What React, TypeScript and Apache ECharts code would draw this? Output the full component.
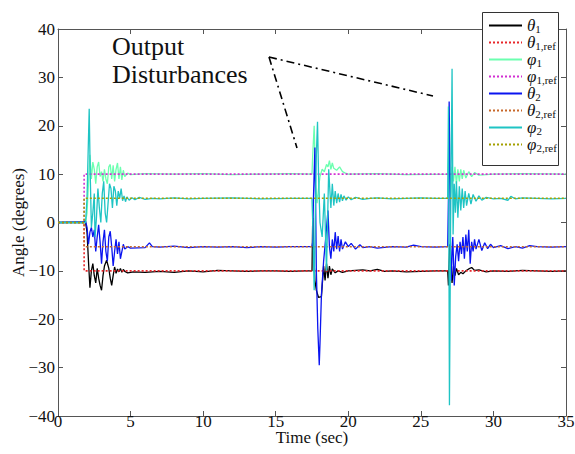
import React, { useEffect, useRef } from "react";
import * as echarts from "echarts";

const FONT = "Liberation Serif";

const xTicks = [0, 5, 10, 15, 20, 25, 30, 35];
const yTicks = [-40, -30, -20, -10, 0, 10, 20, 30, 40];

const legendNames = ["θ1", "θ1,ref", "φ1", "φ1,ref", "θ2", "θ2,ref", "φ2", "φ2,ref"];
const legendGreek = ["θ", "θ", "φ", "φ", "θ", "θ", "φ", "φ"];
const legendSub = ["1", "1,ref", "1", "1,ref", "2", "2,ref", "2", "2,ref"];
const colors = ["#000000", "#e8262a", "#6cffb0", "#d22fd2", "#0a14f0", "#c8682a", "#1fc4c4", "#a4a000"];

// theta_1 (black)
const theta1: number[][] = [
  [0, 0], [1.9, 0], [2.0, -2], [2.1, -8], [2.2, -13.5], [2.3, -10], [2.4, -8.5], [2.5, -11], [2.6, -12.5],
  [2.7, -9.5], [2.8, -11.5], [2.9, -13], [3.0, -14], [3.1, -11], [3.2, -9], [3.35, -7.8], [3.5, -9.5],
  [3.6, -11.5], [3.7, -13], [3.8, -11], [3.9, -9.2], [4.0, -10.5], [4.1, -9.6], [4.2, -10.2], [4.3, -9.5],
  [4.4, -10.3], [4.5, -9.7], [4.6, -10.1], [4.8, -10.4], [5.2, -10.2], [6, -10.3], [7, -10.1], [8, -10.3],
  [9, -10.0], [10, -10.2], [11, -9.9], [12, -10], [13, -10.1], [14, -10], [15, -10], [16, -10.1], [17, -10],
  [17.5, -10], [17.55, 1], [17.62, -6], [17.7, -12], [17.8, -14], [17.95, -15.5], [18.15, -15.3], [18.3, -9],
  [18.4, -12], [18.5, -8.5], [18.6, -11.5], [18.7, -9], [18.8, -10.8], [18.9, -9.6], [19.1, -10.4],
  [19.3, -10], [19.6, -10.3], [20, -10], [21, -9.8], [21.5, -10], [22, -9.7], [22.5, -10.1], [23, -10],
  [24, -10.2], [25, -10.1], [26, -10], [26.85, -10], [26.9, -13], [26.95, -8], [27.0, -4.5], [27.05, -9],
  [27.15, -12.5], [27.25, -9], [27.35, -11], [27.45, -9.5], [27.6, -10.8], [27.75, -10.3], [27.9, -10.6],
  [28.1, -10], [28.3, -9.6], [28.5, -9.3], [28.7, -9.9], [29, -9.8], [29.5, -10.2], [30, -10], [31, -10.1],
  [32, -9.9], [33, -10], [34, -10.1], [35, -10],
];

// theta_2 (blue)
const theta2: number[][] = [
  [0, 0], [1.6, 0.1], [1.9, 0.3], [2.0, -1], [2.1, -4.5], [2.2, -2], [2.3, -1], [2.4, -3], [2.5, -1.5],
  [2.6, -6], [2.7, -3], [2.8, -0.5], [2.9, -4], [3.0, -8.5], [3.1, -4], [3.2, -1.5], [3.3, -6], [3.4, -8],
  [3.5, -3], [3.6, -1.8], [3.7, -5], [3.8, -9], [3.9, -6], [4.0, -3.5], [4.1, -6.5], [4.2, -4], [4.3, -7.5],
  [4.4, -6], [4.5, -4.5], [4.6, -5.5], [4.8, -5], [5, -5.3], [6, -5.2], [6.3, -4.2], [6.5, -5], [7, -5.1],
  [8, -4.9], [9, -5.2], [10, -5], [11, -5.1], [12, -5], [13, -5.2], [14, -5], [15, -5.1], [16, -5], [17, -5],
  [17.5, -5], [17.55, -4], [17.6, 5], [17.7, 15.5], [17.75, 4], [17.8, -10], [17.9, -22], [18.0, -29.5],
  [18.05, -25], [18.15, -15], [18.3, -8], [18.45, -3], [18.6, 2.5], [18.7, -5], [18.8, -7.5], [18.9, -3.5],
  [19.0, -6], [19.1, -2], [19.2, -5.5], [19.3, -2.8], [19.4, -6], [19.5, -3.5], [19.6, -5.5], [19.8, -4],
  [20, -5], [20.2, -4.3], [20.5, -5.5], [20.8, -4.6], [21, -5.2], [21.5, -5], [22, -5.3], [23, -5],
  [24, -5.1], [24.5, -4.7], [25, -5], [26, -5.1], [26.85, -5], [26.9, 5], [26.95, 25], [27.0, 10],
  [27.05, -8], [27.1, -12], [27.15, -6], [27.2, -3], [27.3, -13], [27.4, -7], [27.5, -4.5], [27.6, -8],
  [27.7, -4], [27.8, -6.5], [27.9, -3], [28.0, -7.5], [28.1, -2.5], [28.2, -6], [28.3, -1.5], [28.4, -8.5],
  [28.5, -4], [28.6, -6], [28.7, -3.5], [28.8, -5.5], [29, -3.5], [29.2, -5.8], [29.4, -4.2], [29.6, -5.4],
  [29.8, -4.5], [30, -5.2], [30.5, -4.8], [31, -5.4], [31.5, -5], [32, -5.3], [32.5, -4.8], [33, -5],
  [34, -5.1], [35, -5],
];

// phi_1 (light green)
const phi1: number[][] = [
  [0, 0], [1.9, 0], [2.0, 2], [2.1, 8], [2.2, 14], [2.3, 9], [2.4, 12.5], [2.5, 11], [2.6, 8], [2.7, 11.5],
  [2.8, 12.5], [2.9, 9.5], [3.0, 10.5], [3.1, 8.5], [3.2, 11], [3.3, 9], [3.4, 8], [3.5, 11.5], [3.6, 12],
  [3.7, 9], [3.8, 11.8], [3.9, 8.5], [4.0, 11], [4.1, 12.3], [4.2, 9], [4.3, 11.5], [4.4, 8.8], [4.5, 10.8],
  [4.6, 9.5], [4.8, 10.2], [5, 9.9], [6, 10.1], [8, 10], [10, 10.1], [12, 9.9], [14, 10], [16, 10.1],
  [17.5, 10], [17.55, 14], [17.65, 20], [17.75, 8], [17.85, 4], [17.95, 7], [18.05, 9.5], [18.2, 11],
  [18.35, 10.5], [18.5, 12], [18.6, 11.5], [18.7, 12.8], [18.8, 11], [18.9, 12.3], [19.0, 11.2],
  [19.2, 10.8], [19.4, 11.5], [19.6, 10.5], [19.8, 10.2], [20, 10], [22, 10.1], [24, 9.9], [26.85, 10],
  [26.9, 14], [26.95, 22], [27.0, 12], [27.05, 5], [27.15, 11.5], [27.25, 8.5], [27.35, 11.5], [27.45, 8],
  [27.55, 11], [27.65, 8.5], [27.75, 11], [27.85, 9], [27.95, 10.8], [28.1, 9.2], [28.3, 10.5], [28.5, 9.5],
  [28.7, 10.3], [29, 9.8], [30, 10], [32, 10.1], [35, 10],
];

// phi_2 (cyan)
const phi2: number[][] = [
  [0, 0], [1.9, 0], [2.0, 5], [2.08, 15], [2.15, 23.5], [2.22, 10], [2.3, -1], [2.4, 2], [2.5, 6],
  [2.55, -3], [2.65, 1], [2.75, 7], [2.85, 3], [2.95, 0], [3.05, 6], [3.15, 8.5], [3.25, 2], [3.35, 0],
  [3.45, 4], [3.55, 8], [3.65, 7], [3.75, 3], [3.85, 7.5], [3.95, 6.5], [4.05, 3.5], [4.15, 6.5],
  [4.25, 5], [4.35, 7], [4.45, 4.5], [4.55, 5.5], [4.65, 4.3], [4.75, 5.3], [4.9, 4.6], [5.1, 5.1],
  [5.3, 4.7], [5.6, 5.2], [6, 4.8], [6.5, 5], [7, 4.9], [8, 5.1], [9, 4.9], [10, 5], [12, 5.1], [14, 4.9],
  [16, 5], [17.5, 5], [17.55, 0], [17.65, -14], [17.72, 0], [17.8, 14], [17.88, 20.8], [17.95, 10],
  [18.05, 0], [18.2, -3], [18.35, 6], [18.5, -10], [18.65, 11], [18.8, 3], [18.9, 8], [19.0, 3.5],
  [19.1, 6.5], [19.2, 4], [19.3, 6], [19.4, 4.2], [19.5, 5.8], [19.6, 4.5], [19.7, 5.5], [19.85, 4.6],
  [20, 5.3], [20.2, 4.7], [20.5, 5.2], [21, 4.8], [21.5, 5], [22, 5.1], [23, 4.9], [24, 5], [25, 5.1],
  [26, 5], [26.85, 5], [26.9, 24], [26.97, -37.8], [27.05, 0], [27.15, 31.8], [27.22, -2.5], [27.3, 8],
  [27.38, 2], [27.45, 8.5], [27.55, 1], [27.65, 7.5], [27.75, 2.5], [27.85, 7], [27.95, 3], [28.05, 6.5],
  [28.15, 3.5], [28.3, 6], [28.45, 3.8], [28.6, 5.8], [28.8, 4.4], [29, 5.5], [29.2, 4.6], [29.5, 5.2],
  [30, 4.9], [30.5, 5], [31, 4.6], [31.2, 5.4], [31.5, 4.9], [32, 5.1], [33, 5], [34, 4.9], [35, 5],
];

// reference signals
const theta1Ref: number[][] = [[0, 0], [1.8, 0], [1.8, -10], [35, -10]];
const phi1Ref: number[][] = [[0, 0], [1.8, 0], [1.8, 10], [35, 10]];
const theta2Ref: number[][] = [[0, 0], [1.8, 0], [1.8, -5], [35, -5]];
const phi2Ref: number[][] = [[0, 0], [1.8, 0], [1.8, 5], [35, 5]];

const seriesData = [theta1, theta1Ref, phi1, phi1Ref, theta2, theta2Ref, phi2, phi2Ref];
const isRef = [false, true, false, true, false, true, false, true];

const annotationLines = ["Output", "Disturbances"];

export default function App() {
  const ref = useRef<HTMLDivElement>(null);
  useEffect(() => {
    if (!ref.current) return;
    const chart = echarts.init(ref.current, null, { renderer: "svg" });
    const fmtNum = (v: number) => (v < 0 ? "\u2212" + Math.abs(v) : String(v));
    const axisCommon = {
      type: "value" as const,
      axisLine: { show: true, onZero: false, lineStyle: { color: "#555", width: 1 } },
      axisTick: { show: true, inside: true, length: 5, lineStyle: { color: "#555" } },
      splitLine: { show: false },
    };
    const option: any = {
      animation: false,
      backgroundColor: "#fff",
      textStyle: { fontFamily: FONT },
      grid: { left: 58, right: 9, top: 29, bottom: 38, containLabel: false, outerBoundsMode: "none" },
      xAxis: [
        {
          ...axisCommon,
          min: 0, max: 35, interval: 5,
          position: "bottom",
          name: "Time (sec)",
          nameLocation: "middle",
          nameGap: 13,
          nameMoveOverlap: false,
          nameTextStyle: { fontFamily: FONT, fontSize: 17, lineHeight: 17, color: "#111", verticalAlign: "top" },
          axisLabel: { margin: 0, fontFamily: FONT, fontSize: 17, lineHeight: 11, color: "#111", formatter: fmtNum },
        },
        {
          ...axisCommon,
          min: 0, max: 35, interval: 5,
          position: "top",
          axisLabel: { show: false },
        },
      ],
      yAxis: [
        {
          ...axisCommon,
          min: -40, max: 40, interval: 10,
          position: "left",
          name: "Angle (degrees)",
          nameLocation: "middle",
          nameGap: 31,
          nameMoveOverlap: false,
          nameTextStyle: { fontFamily: FONT, fontSize: 17, color: "#111" },
          axisLabel: { margin: 3, fontFamily: FONT, fontSize: 17, color: "#111", formatter: fmtNum },
        },
        {
          ...axisCommon,
          min: -40, max: 40, interval: 10,
          position: "right",
          axisLabel: { show: false },
        },
      ],
      legend: {
        orient: "vertical",
        left: 482,
        top: 17,
        padding: [0, 0, 0, 6],
        itemGap: 0,
        itemWidth: 33,
        itemHeight: 10,
        backgroundColor: "transparent",
        borderWidth: 0,
        z: 5,
        data: legendNames,
        itemStyle: { color: "transparent", borderColor: "transparent", borderWidth: 0 },
        formatter: (name: string) => {
          const i = legendNames.indexOf(name);
          return `{g|${legendGreek[i]}}{s|${legendSub[i]}}`;
        },
        textStyle: {
          fontFamily: FONT,
          color: "#111",
          rich: {
            g: { fontFamily: FONT, fontStyle: "italic", fontSize: 17, lineHeight: 17, verticalAlign: "top", color: "#111" },
            s: { fontFamily: FONT, fontSize: 11, lineHeight: 12, padding: [6, 0, 0, 0], verticalAlign: "top", color: "#111" },
          },
        },
      },
      graphic: [
        {
          type: "rect",
          z: 3,
          shape: { x: 482.5, y: 12.5, width: 76, height: 153 },
          style: { fill: "#fff", stroke: "#333", lineWidth: 1 },
        },
        {
          type: "text",
          left: 112,
          top: 33,
          style: { text: annotationLines[0], fontFamily: FONT, fontSize: 26, fill: "#111" },
        },
        {
          type: "text",
          left: 112,
          top: 61,
          style: { text: annotationLines[1], fontFamily: FONT, fontSize: 26, fill: "#111" },
        },
        {
          type: "line",
          shape: { x1: 269, y1: 57, x2: 433, y2: 96 },
          style: { stroke: "#000", lineWidth: 1.6, lineDash: [8, 4, 2, 4] },
        },
        {
          type: "line",
          shape: { x1: 269, y1: 57, x2: 297, y2: 148 },
          style: { stroke: "#000", lineWidth: 1.6, lineDash: [8, 4, 2, 4] },
        },
      ],
      series: legendNames.map((name, i) => ({
        name,
        type: "line",
        data: seriesData[i],
        xAxisIndex: 0,
        yAxisIndex: 0,
        symbol: "none",
        showSymbol: false,
        color: colors[i],
        lineStyle: {
          color: colors[i],
          width: isRef[i] ? 1.6 : 1.3,
          type: isRef[i] ? [2, 2] : "solid",
        },
        z: 2,
      })),
    };
    chart.setOption(option);
    return () => chart.dispose();
  }, []);
  return (
    <div
      ref={ref}
      style={{ position: "fixed", left: 0, top: 0, width: 575, height: 454, background: "#fff" }}
    />
  );
}
